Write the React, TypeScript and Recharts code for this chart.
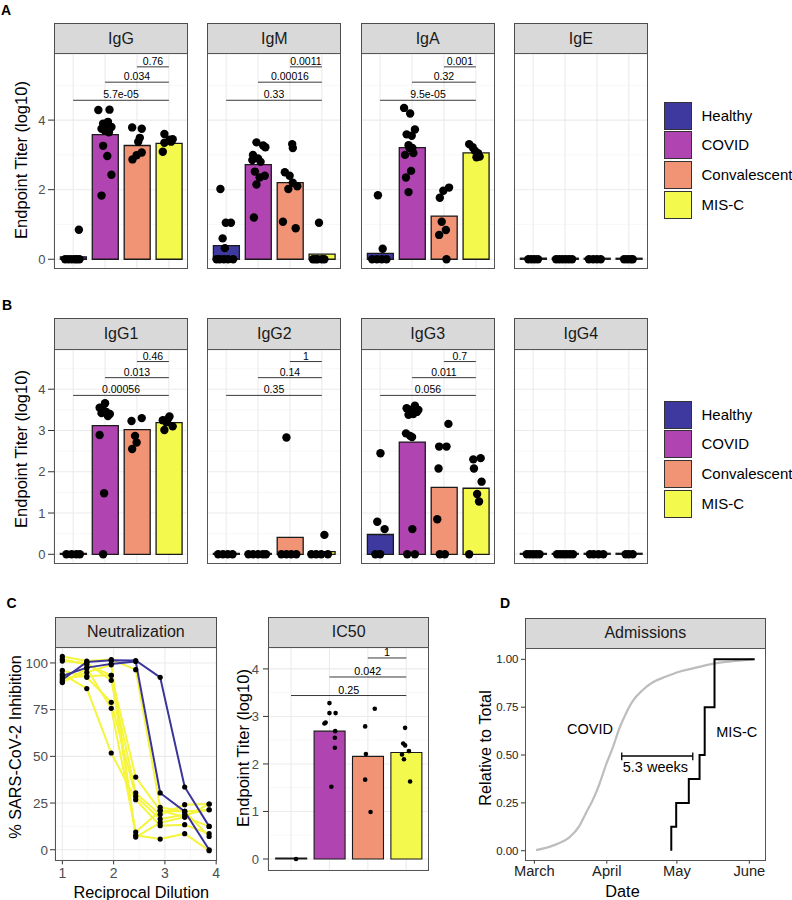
import React from 'react';
import { ComposedChart, Bar, Cell, Scatter, Line, XAxis, YAxis, CartesianGrid, ReferenceLine } from 'recharts';

const FONT = '"Liberation Sans", Arial, Helvetica, sans-serif';
const GROUPS = ['Healthy', 'COVID', 'Convalescent', 'MIS-C'];
const GROUP_COLORS = ['#3D399F', '#B045B1', '#F19475', '#F3FA4D'];
const BRACKET_FROM = [1, 2, 3];

// ---------- Panel A ----------
const A_FACETS = ['IgG', 'IgM', 'IgA', 'IgE'];
const A_Y_MAJOR = [0, 2, 4];
const A_Y_MINOR = [1, 3, 5];
const A_BRACKET_Y = [4.57, 5.09, 5.53];

const igG_bars = [0.07, 3.58, 3.27, 3.33];
const igG_points = [
  [0.75, 0], [0.85, 0], [0.95, 0], [1.05, 0], [1.12, 0], [1.2, 0], [1.18, 0.85],
  [1.79, 4.29], [2.14, 4.3], [2.09, 3.95], [1.94, 3.9], [2.04, 3.85], [2.2, 3.8], [1.89, 3.75], [1.99, 3.7], [2.12, 3.65], [1.94, 3.26], [2.07, 2.97], [2.2, 2.43], [1.89, 1.83],
  [2.85, 3.79], [3.15, 3.75], [3.09, 3.49], [3.04, 3.38], [3.15, 3.07], [2.99, 2.99], [2.86, 2.87],
  [3.86, 3.6], [4.02, 3.44], [4.12, 3.45], [3.86, 3.35], [3.81, 3.09], [4.07, 3.38],
];
const igG_pvals = ['5.7e-05', '0.034', '0.76'];

const igM_bars = [0.39, 2.72, 2.2, 0.15];
const igM_points = [
  [0.82, 2.02], [0.99, 1.05], [1.15, 1.05], [0.89, 0.6], [0.96, 0.32], [0.7, 0], [0.8, 0], [0.93, 0], [1.06, 0], [1.22, 0],
  [1.95, 3.36], [2.16, 3.27], [2.23, 3.22], [1.84, 3.0], [2.0, 2.9], [2.08, 2.8], [1.9, 2.52], [2.21, 2.4], [2.05, 2.35], [1.95, 2.15], [1.87, 1.2], [1.82, 2.85],
  [3.07, 3.31], [3.09, 3.2], [2.84, 2.5], [2.99, 2.4], [3.09, 2.2], [2.95, 2.02], [3.23, 2.1], [2.78, 1.08], [3.18, 0.89],
  [3.91, 1.05], [3.72, 0], [3.87, 0], [4.08, 0], [3.8, 0], [4.0, 0],
];
const igM_pvals = ['0.33', '0.00016', '0.0011'];

const igA_bars = [0.17, 3.21, 1.24, 3.06];
const igA_points = [
  [0.93, 1.84], [1.08, 0.3], [0.75, 0], [0.9, 0], [1.05, 0], [1.2, 0],
  [1.75, 4.35], [1.94, 4.19], [2.09, 3.73], [1.83, 3.59], [1.99, 3.55], [1.89, 3.28], [1.92, 3.2], [2.01, 3.2], [1.78, 3.0], [2.04, 3.05], [1.97, 2.54], [1.81, 2.35], [1.89, 1.93],
  [3.16, 2.06], [2.98, 1.97], [2.87, 1.77], [2.93, 1.08], [3.06, 0.84], [2.85, 0.7], [3.08, 0],
  [3.79, 3.31], [3.9, 3.22], [3.97, 3.12], [4.07, 3.05], [4.02, 2.93], [4.12, 2.95],
];
const igA_pvals = ['9.5e-05', '0.32', '0.001'];

const igE_bars = [0, 0, 0, 0];
const igE_points = [
  [0.85, 0], [0.95, 0], [1.05, 0], [1.15, 0],
  [1.72, 0], [1.82, 0], [1.92, 0], [2.02, 0], [2.12, 0], [2.22, 0],
  [2.75, 0], [2.88, 0], [3.0, 0], [3.12, 0],
  [3.85, 0], [3.95, 0], [4.05, 0], [4.12, 0],
];
const igE_pvals: string[] = [];

// ---------- Panel B ----------
const B_FACETS = ['IgG1', 'IgG2', 'IgG3', 'IgG4'];
const B_Y_MAJOR = [0, 1, 2, 3, 4];
const B_Y_MINOR = [0.5, 1.5, 2.5, 3.5, 4.5];
const B_BRACKET_Y = [3.85, 4.28, 4.67];

const igG1_bars = [0, 3.12, 3.02, 3.19];
const igG1_points = [
  [0.79, 0], [0.95, 0], [1.1, 0], [1.21, 0],
  [2.0, 3.66], [1.83, 3.55], [1.94, 3.5], [2.04, 3.45], [2.15, 3.4], [1.89, 3.42], [2.09, 3.35], [1.83, 2.89], [1.97, 1.48], [1.94, 0],
  [2.83, 3.23], [3.15, 3.3], [2.94, 2.87], [2.99, 2.71], [2.85, 2.55],
  [4.02, 3.34], [3.81, 3.25], [3.92, 3.2], [4.12, 3.1], [3.86, 3.01], [3.97, 3.28],
];
const igG1_pvals = ['0.00056', '0.013', '0.46'];

const igG2_bars = [0, 0, 0.41, 0.065];
const igG2_points = [
  [0.75, 0], [0.9, 0], [1.05, 0], [1.2, 0],
  [1.7, 0], [1.85, 0], [2.0, 0], [2.15, 0], [2.25, 0],
  [2.89, 2.83], [2.73, 0], [2.89, 0], [3.04, 0], [3.2, 0],
  [4.08, 0.47], [3.67, 0], [3.82, 0], [3.98, 0], [4.19, 0],
];
const igG2_pvals = ['0.35', '0.14', '1'];

const igG3_bars = [0.48, 2.72, 1.62, 1.6];
const igG3_points = [
  [1.01, 2.45], [0.91, 0.79], [1.14, 0.61], [0.85, 0], [1.0, 0],
  [1.83, 3.54], [2.09, 3.6], [1.94, 3.5], [2.15, 3.45], [2.04, 3.4], [1.89, 3.38], [2.2, 3.5], [1.81, 2.93], [1.94, 2.87], [2.0, 2.84], [2.01, 0.61], [1.85, 0], [2.09, 0],
  [3.14, 3.16], [2.85, 2.61], [3.08, 2.61], [2.83, 2.08], [2.79, 0.85], [2.87, 0], [3.03, 0],
  [3.92, 2.3], [4.15, 2.33], [3.94, 2.08], [4.18, 1.76], [4.04, 1.46], [4.1, 1.28], [3.79, 0],
];
const igG3_pvals = ['0.056', '0.011', '0.7'];

const igG4_bars = [0, 0, 0, 0];
const igG4_points = [
  [0.8, 0], [0.9, 0], [1.0, 0], [1.1, 0], [1.2, 0],
  [1.75, 0], [1.85, 0], [1.95, 0], [2.05, 0], [2.15, 0], [2.25, 0],
  [2.78, 0], [2.9, 0], [3.05, 0], [3.2, 0],
  [3.9, 0], [4.0, 0], [4.12, 0],
];
const igG4_pvals: string[] = [];

// ---------- Panel C: IC50 ----------
const ic50_bars = [0, 2.69, 2.16, 2.24];
const ic50_points = [
  [1.13, 0],
  [2.0, 3.28], [2.0, 3.07], [2.16, 3.07], [1.87, 2.85], [1.9, 2.87], [2.15, 2.69], [2.14, 2.55], [2.14, 2.34], [2.05, 1.52],
  [3.18, 3.16], [2.93, 2.79], [2.95, 2.21], [2.93, 1.67], [3.07, 0.99],
  [3.97, 2.76], [3.92, 2.43], [3.97, 2.39], [4.07, 2.27], [3.89, 2.2], [3.94, 2.1], [4.1, 1.63],
];
const ic50_pvals = ['0.25', '0.042', '1'];
const IC50_BRACKET_Y = [3.44, 3.83, 4.23];
const IC50_Y_MAJOR = [0, 1, 2, 3, 4];
const IC50_Y_MINOR = [0.5, 1.5, 2.5, 3.5];

// ---------- Panel C: Neutralization ----------
const NEUT_X = [1, 1.477, 1.954, 2.431, 2.908, 3.386, 3.863];
const NEUT_X_MAJOR = [1, 2, 3, 4];
const NEUT_X_MINOR = [1.5, 2.5, 3.5];
const NEUT_Y_MAJOR = [0, 25, 50, 75, 100];
const NEUT_Y_MINOR = [12.5, 37.5, 62.5, 87.5];
const neutYellow1 = [103.5, 101, 101.8, 96.4, 22.7, 20.5, 21.4];
const neutYellow2 = [102, 99, 93.4, 38.9, 21, 17.5, 24.5];
const neutYellow3 = [101, 100, 90.7, 30.4, 18.8, 24.1, 24.5];
const neutYellow4 = [96, 92.3, 78.9, 28.6, 16.4, 18.8, 21.4];
const neutYellow5 = [94, 86.3, 51.8, 26.8, 12.9, 13.4, 8.6];
const neutYellow6 = [89.5, 97, 75.7, 9.5, 20.9, 20.5, 7.1];
const neutYellow7 = [90, 95, 99, 7.7, 5.7, 8.6, -0.5];
const neutYellow8 = [92, 93, 93.4, 6.8, 14.5, 17.5, 12.5];
const neutBlue1 = [91, 100.5, 101.5, 101.3, 92.3, 33.6, 12.5];
const neutBlue2 = [93, 97.5, 99.5, 100.8, 30.4, 20.5, 0];
const NEUT_YELLOW = [neutYellow1, neutYellow2, neutYellow3, neutYellow4, neutYellow5, neutYellow6, neutYellow7, neutYellow8];
const NEUT_BLUE = [neutBlue1, neutBlue2];

// ---------- Panel D ----------
const MONTH_LABELS = ['March', 'April', 'May', 'June'];
const MONTH_DAYS = [0, 31, 61, 92];
const D_Y_TICKS = [0, 0.25, 0.5, 0.75, 1];
const covidDays = [0.7, 6.4, 10.7, 15, 19.3, 22, 25, 27.9, 30.7, 33.6, 36.4, 39.3, 42, 46.4, 50.7, 56.4, 62, 67.9, 73.6, 79.3, 85, 93.6];
const covidFrac = [0.003, 0.02, 0.04, 0.07, 0.13, 0.195, 0.265, 0.35, 0.45, 0.54, 0.64, 0.72, 0.78, 0.84, 0.88, 0.91, 0.935, 0.953, 0.97, 0.983, 0.99, 1.0];
const miscDays = [58.6, 58.6, 60.7, 66.1, 70.7, 72.9, 77.1, 94.3];
const miscFrac = [0, 0.125, 0.25, 0.375, 0.5, 0.75, 1.0, 1.0];
const D_TEXTS = [
  { x: 23.8, y: 0.636, label: 'COVID' },
  { x: 86.6, y: 0.622, label: 'MIS-C' },
  { x: 51.8, y: 0.439, label: '5.3 weeks' },
];
const GAP_START = 37.4;
const GAP_END = 67.8;
const GAP_Y = 0.495;

// ---------- helpers ----------
const dotShape = (r: number) => (props: any) =>
  props.cx == null ? <g /> : <circle cx={props.cx} cy={props.cy} r={r} fill="#000" />;

function Strip({ left, top, width, height, text }: any) {
  return (
    <div style={{
      position: 'absolute', left, top, width, height, background: '#D9D9D9',
      border: '1px solid #4D4D4D', boxSizing: 'border-box', display: 'flex', alignItems: 'center',
      justifyContent: 'center', fontFamily: FONT, fontSize: 16, color: '#1A1A1A',
    }}>{text}</div>
  );
}

function Frame({ left, top, width, height }: any) {
  return (
    <div style={{
      position: 'absolute', left, top: top - 1, width, height: height + 1,
      border: '1px solid #555', boxSizing: 'border-box', pointerEvents: 'none',
    }} />
  );
}

function VText({ cx, cy, text, size }: any) {
  return (
    <div style={{
      position: 'absolute', left: cx, top: cy, transform: 'translate(-50%,-50%) rotate(-90deg)',
      fontFamily: FONT, fontSize: size, whiteSpace: 'nowrap', lineHeight: 1, color: '#000',
    }}>{text}</div>
  );
}

function HText({ cx, cy, text, size }: any) {
  return (
    <div style={{
      position: 'absolute', left: cx, top: cy, transform: 'translate(-50%,-50%)',
      fontFamily: FONT, fontSize: size, whiteSpace: 'nowrap', lineHeight: 1, color: '#000',
    }}>{text}</div>
  );
}

function PanelLabel({ left, baseline, text }: any) {
  return (
    <div style={{
      position: 'absolute', left, top: baseline - 11.85, fontFamily: FONT, fontWeight: 'bold',
      fontSize: 14, lineHeight: 1, color: '#000',
    }}>{text}</div>
  );
}

function Legend({ top }: { top: number }) {
  return (
    <>
      {GROUPS.map((g, i) => (
        <React.Fragment key={g}>
          <div style={{
            position: 'absolute', left: 664, top: top + i * 29.7, width: 28, height: 28,
            background: GROUP_COLORS[i], border: '1.5px solid #333', boxSizing: 'border-box',
          }} />
          <div style={{
            position: 'absolute', left: 701.5, top: top + i * 29.7, height: 28, lineHeight: '28px',
            fontFamily: FONT, fontSize: 15, color: '#000', whiteSpace: 'nowrap',
          }}>{g}</div>
        </React.Fragment>
      ))}
    </>
  );
}

type FacetProps = {
  left: number; stripTop: number; top: number; width: number; height: number; title: string;
  domain: [number, number]; major: number[]; minor: number[]; bars: number[]; points: number[][];
  pvals: string[]; bracketY: number[]; yAxisWidth: number; dotR: number; pFont: number;
  tickSize?: number; tickMargin?: number; barStroke?: number;
};

const TOP_PAD = 8;

function Facet(p: FacetProps) {
  const yW = p.yAxisWidth;
  const data = GROUPS.map((g, i) => ({ name: g, v: p.bars[i] }));
  const pts = p.points.map(([x, y]) => ({ x, y }));
  const pad = p.width / 42;
  return (
    <>
      <Strip left={p.left} top={p.stripTop} width={p.width} height={p.top - p.stripTop} text={p.title} />
      <div style={{ position: 'absolute', left: p.left - yW, top: p.top - TOP_PAD }}>
        <ComposedChart width={p.width + yW} height={p.height + TOP_PAD} data={data} margin={{ top: TOP_PAD, right: 0, bottom: 0, left: 0 }}>
          <XAxis xAxisId="cat" dataKey="name" type="category" hide height={0} padding={{ left: pad, right: pad }} />
          <XAxis xAxisId="num" dataKey="x" type="number" domain={[0.4, 4.6]} ticks={[1, 2, 3, 4]} hide height={0} allowDataOverflow />
          <YAxis
            yAxisId="y" type="number" domain={p.domain} ticks={p.major} hide={yW === 0} width={yW}
            allowDataOverflow axisLine={false} tickSize={p.tickSize ?? 6} tickMargin={p.tickMargin ?? 2.5}
            tickLine={{ stroke: '#333' }} tick={{ fontSize: 13, fill: '#4D4D4D', fontFamily: FONT }}
          />
          <YAxis yAxisId="ym" type="number" domain={p.domain} ticks={p.minor} hide width={0} allowDataOverflow />
          <CartesianGrid xAxisId="num" yAxisId="ym" vertical={false} stroke="#F2F2F2" strokeWidth={0.6} />
          <CartesianGrid xAxisId="num" yAxisId="y" stroke="#EBEBEB" strokeWidth={1.1} />
          <Bar xAxisId="cat" yAxisId="y" dataKey="v" barCategoryGap="5%" stroke="#1A1A1A"
            strokeWidth={p.barStroke ?? 1.3} minPointSize={1} isAnimationActive={false}>
            {data.map((d, i) => <Cell key={d.name} fill={GROUP_COLORS[i]} />)}
          </Bar>
          <Scatter xAxisId="num" yAxisId="y" data={pts} dataKey="y" shape={dotShape(p.dotR)} isAnimationActive={false} />
          {p.pvals.map((pv, i) => (
            <ReferenceLine
              key={i} xAxisId="num" yAxisId="y"
              segment={[{ x: BRACKET_FROM[i], y: p.bracketY[i] }, { x: 4, y: p.bracketY[i] }]}
              stroke="#222" strokeWidth={0.9}
              label={{ value: pv, position: 'top', offset: 2, fontSize: p.pFont, fill: '#000', fontFamily: FONT }}
            />
          ))}
        </ComposedChart>
      </div>
      <Frame left={p.left} top={p.top} width={p.width} height={p.height} />
    </>
  );
}

const FACET_LEFTS = [54, 207.3, 360.7, 513.8];
const FACET_W = 134;

const A_DATA = [
  { bars: igG_bars, points: igG_points, pvals: igG_pvals },
  { bars: igM_bars, points: igM_points, pvals: igM_pvals },
  { bars: igA_bars, points: igA_points, pvals: igA_pvals },
  { bars: igE_bars, points: igE_points, pvals: igE_pvals },
];
const B_DATA = [
  { bars: igG1_bars, points: igG1_points, pvals: igG1_pvals },
  { bars: igG2_bars, points: igG2_points, pvals: igG2_pvals },
  { bars: igG3_bars, points: igG3_points, pvals: igG3_pvals },
  { bars: igG4_bars, points: igG4_points, pvals: igG4_pvals },
];

function Neutralization() {
  const L = 55, T = 648.3, W = 161.7, H = 212.4, YW = 47;
  const series = (vals: number[]) => NEUT_X.map((x, i) => ({ x, y: vals[i] }));
  return (
    <>
      <Strip left={L} top={616.7} width={W} height={T - 616.7} text="Neutralization" />
      <div style={{ position: 'absolute', left: L - YW, top: T }}>
        <ComposedChart width={YW + W + 10} height={H + 30} margin={{ top: 0, right: 10, bottom: 0, left: 0 }}>
          <XAxis xAxisId="x" dataKey="x" type="number" domain={[0.857, 4.01]} ticks={NEUT_X_MAJOR} height={30}
            allowDataOverflow axisLine={false} tickSize={4} tickMargin={3.5} tickLine={{ stroke: '#333' }}
            tick={{ fontSize: 14, fill: '#4D4D4D', fontFamily: FONT }} />
          <XAxis xAxisId="xm" dataKey="x" type="number" domain={[0.857, 4.01]} ticks={NEUT_X_MINOR} hide height={0} allowDataOverflow />
          <YAxis yAxisId="y" type="number" domain={[-5.7, 108]} ticks={NEUT_Y_MAJOR} width={YW} allowDataOverflow
            axisLine={false} tickSize={5} tickMargin={2} tickLine={{ stroke: '#333' }}
            tick={{ fontSize: 13.5, fill: '#4D4D4D', fontFamily: FONT }} />
          <YAxis yAxisId="ym" type="number" domain={[-5.7, 108]} ticks={NEUT_Y_MINOR} hide width={0} allowDataOverflow />
          <CartesianGrid xAxisId="xm" yAxisId="ym" stroke="#F2F2F2" strokeWidth={0.6} />
          <CartesianGrid xAxisId="x" yAxisId="y" stroke="#EBEBEB" strokeWidth={1.1} />
          {NEUT_YELLOW.map((s, i) => (
            <Line key={'y' + i} xAxisId="x" yAxisId="y" data={series(s)} dataKey="y" type="linear" stroke="#F5F53D"
              strokeWidth={2} dot={{ r: 2.6, fill: '#000', stroke: 'none' }} isAnimationActive={false} />
          ))}
          {NEUT_BLUE.map((s, i) => (
            <Line key={'b' + i} xAxisId="x" yAxisId="y" data={series(s)} dataKey="y" type="linear" stroke="#3B3499"
              strokeWidth={2} dot={{ r: 2.6, fill: '#000', stroke: 'none' }} isAnimationActive={false} />
          ))}
        </ComposedChart>
      </div>
      <Frame left={L} top={T} width={W} height={H} />
      <VText cx={14.5} cy={746.7} text="% SARS-CoV-2 Inhibition" size={16.3} />
      <HText cx={141.3} cy={891.7} text="Reciprocal Dilution" size={16.3} />
    </>
  );
}

function Admissions() {
  const L = 525, T = 649, W = 240.7, H = 211.7, YW = 45;
  const covid = covidDays.map((x, i) => ({ x, y: covidFrac[i] }));
  const misc = miscDays.map((x, i) => ({ x, y: miscFrac[i] }));
  const textShape = (props: any) => (
    <text x={props.cx} y={props.cy} textAnchor="middle" dominantBaseline="central" fontSize={14.5}
      fontFamily={FONT} fill="#000">{props.payload.label}</text>
  );
  return (
    <>
      <Strip left={L} top={617.7} width={W} height={T - 617.7} text="Admissions" />
      <div style={{ position: 'absolute', left: L - YW, top: T }}>
        <ComposedChart width={YW + W + 12} height={H + 28} margin={{ top: 0, right: 12, bottom: 0, left: 0 }}>
          <XAxis dataKey="x" type="number" domain={[-4, 99]} ticks={MONTH_DAYS} height={28} allowDataOverflow
            tickFormatter={(v: number) => MONTH_LABELS[MONTH_DAYS.indexOf(v)]} axisLine={false}
            tickSize={3} tickMargin={1.5} tickLine={{ stroke: '#333' }}
            tick={{ fontSize: 14.7, fill: '#222', fontFamily: FONT }} />
          <YAxis type="number" domain={[-0.052, 1.054]} ticks={D_Y_TICKS} width={YW} allowDataOverflow
            tickFormatter={(v: number) => v.toFixed(2)} axisLine={false} tickSize={4} tickMargin={2.5}
            tickLine={{ stroke: '#333' }} tick={{ fontSize: 11.5, fill: '#222', fontFamily: FONT }} />
          <Line data={covid} dataKey="y" type="monotone" stroke="#BDBDBD" strokeWidth={2.2} dot={false} isAnimationActive={false} />
          <Line data={misc} dataKey="y" type="stepAfter" stroke="#000" strokeWidth={2} dot={false} isAnimationActive={false} />
          <ReferenceLine segment={[{ x: GAP_START, y: GAP_Y }, { x: GAP_END, y: GAP_Y }]} stroke="#000" strokeWidth={1.3} />
          <ReferenceLine segment={[{ x: GAP_START, y: GAP_Y + 0.018 }, { x: GAP_START, y: GAP_Y - 0.022 }]} stroke="#000" strokeWidth={1.3} />
          <ReferenceLine segment={[{ x: GAP_END, y: GAP_Y + 0.018 }, { x: GAP_END, y: GAP_Y - 0.022 }]} stroke="#000" strokeWidth={1.3} />
          <Scatter data={D_TEXTS} dataKey="y" shape={textShape} isAnimationActive={false} />
        </ComposedChart>
      </div>
      <Frame left={L} top={T} width={W} height={H} />
      <VText cx={485} cy={747.5} text="Relative to Total" size={16.3} />
      <HText cx={622.5} cy={890.5} text="Date" size={16.3} />
    </>
  );
}

export default function App() {
  return (
    <div style={{ position: 'absolute', left: 0, top: 0, width: 792, height: 900, background: '#fff', overflow: 'hidden' }}>
      <PanelLabel left={1} baseline={15} text="A" />
      <PanelLabel left={2} baseline={310} text="B" />
      <PanelLabel left={6.5} baseline={608.3} text="C" />
      <PanelLabel left={500} baseline={608.3} text="D" />

      {A_FACETS.map((f, i) => (
        <Facet key={f} left={FACET_LEFTS[i]} stripTop={23} top={54} width={FACET_W} height={215} title={f}
          domain={[-0.28, 5.9]} major={A_Y_MAJOR} minor={A_Y_MINOR} bars={A_DATA[i].bars} points={A_DATA[i].points}
          pvals={A_DATA[i].pvals} bracketY={A_BRACKET_Y} yAxisWidth={i === 0 ? 46 : 0} dotR={4.2} pFont={10.5} />
      ))}
      <VText cx={20.8} cy={160.3} text="Endpoint Titer (log10)" size={16.5} />
      <Legend top={101.7} />

      {B_FACETS.map((f, i) => (
        <Facet key={f} left={FACET_LEFTS[i]} stripTop={318.3} top={350} width={FACET_W} height={214} title={f}
          domain={[-0.235, 4.95]} major={B_Y_MAJOR} minor={B_Y_MINOR} bars={B_DATA[i].bars} points={B_DATA[i].points}
          pvals={B_DATA[i].pvals} bracketY={B_BRACKET_Y} yAxisWidth={i === 0 ? 46 : 0} dotR={4.2} pFont={10.5} />
      ))}
      <VText cx={20.8} cy={449} text="Endpoint Titer (log10)" size={16.5} />
      <Legend top={400.7} />

      <Neutralization />

      <Facet left={268} stripTop={616.7} top={648.3} width={161.3} height={222.4} title="IC50"
        domain={[-0.24, 4.44]} major={IC50_Y_MAJOR} minor={IC50_Y_MINOR} bars={ic50_bars} points={ic50_points}
        pvals={ic50_pvals} bracketY={IC50_BRACKET_Y} yAxisWidth={22} dotR={2.3} pFont={10.8}
        tickSize={5} tickMargin={4} barStroke={1.1} />
      <VText cx={242.5} cy={748} text="Endpoint Titer (log10)" size={16.5} />

      <Admissions />
    </div>
  );
}
